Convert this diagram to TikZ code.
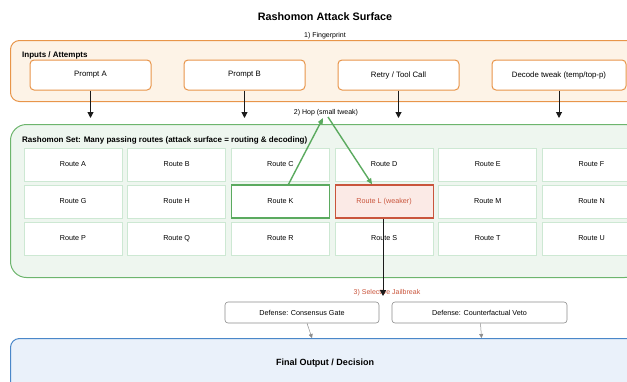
\documentclass[tikz,border=0pt]{standalone}
\usepackage{fontspec}
\setmainfont{Liberation Sans}
\usetikzlibrary{arrows.meta,positioning,calc}
\definecolor{inkblack}{HTML}{1A1A1A}
\definecolor{inorange}{HTML}{E8954A}
\definecolor{inbg}{HTML}{FDF3E7}
\definecolor{setgreen}{HTML}{6DB56D}
\definecolor{setbg}{HTML}{EEF6EF}
\definecolor{cellborder}{HTML}{CDE8D3}
\definecolor{hopgreen}{HTML}{5BAA5F}
\definecolor{weakred}{HTML}{C9553C}
\definecolor{weakbg}{HTML}{FBEAE6}
\definecolor{outblue}{HTML}{4A87C9}
\definecolor{outbg}{HTML}{EAF1FA}
\definecolor{defgray}{HTML}{8C8C8C}

\begin{document}
\begin{tikzpicture}[
    x=1pt, y=-1pt,
    panel/.style={rectangle, line width=1pt, anchor=north west, minimum width=630pt},
    inpanel/.style={panel, rounded corners=9pt, draw=inorange, fill=inbg, minimum height=61pt},
    setpanel/.style={panel, rounded corners=16pt, draw=setgreen, fill=setbg, minimum height=153pt},
    outpanel/.style={panel, rounded corners=9pt, draw=outblue, fill=outbg, minimum height=60pt},
    paneltitle/.style={anchor=west, font=\fontsize{8}{9}\selectfont\bfseries, inner sep=0pt},
    promptbox/.style={rectangle, rounded corners=4pt, line width=1pt, draw=inorange, fill=white, minimum width=121pt, minimum height=30pt, font=\fontsize{7.8}{9}\selectfont},
    routebox/.style={rectangle, line width=0.8pt, draw=cellborder, fill=white, minimum width=98pt, minimum height=33pt, font=\fontsize{7.2}{8}\selectfont},
    defbox/.style={rectangle, rounded corners=3pt, line width=0.6pt, draw=defgray, fill=white, minimum height=21pt, font=\fontsize{7.2}{8}\selectfont},
    flowarrow/.style={-{Triangle[length=6pt, width=6pt]}, line width=1pt, color=inkblack},
    hoparrow/.style={-{Triangle[length=6pt, width=5pt]}, line width=1.4pt, color=hopgreen},
    defarrow/.style={-{Triangle[length=4pt, width=4pt]}, line width=0.5pt, color=defgray},
    steplabel/.style={font=\fontsize{7}{8}\selectfont, inner sep=1pt}
]
    \clip (0,0) rectangle (627,381);

    % Title
    \node[font=\fontsize{10.8}{13}\selectfont\bfseries] (title) at (325,17) {Rashomon Attack Surface};

    % Inputs / Attempts
    \node[inpanel] (inputs) at (10,40) {};
    \node[paneltitle] (inputsT) at (22,55) {Inputs / Attempts};
    \node[steplabel] (fp) at (325,36) {1) Fingerprint};
    \node[promptbox] (pA) at (90.5,75) {Prompt A};
    \node[promptbox] (pB) at (244.5,75) {Prompt B};
    \node[promptbox] (pC) at (398.5,75) {Retry / Tool Call};
    \node[promptbox, minimum width=134pt] (pD) at (559,75) {Decode tweak (temp/top-p)};

    % Rashomon set
    \node[setpanel] (rset) at (10,124) {};
    \node[paneltitle] (rsetT) at (22,140) {Rashomon Set: Many passing routes (attack surface = routing \& decoding)};
    \foreach \name/\col/\row in {A/0/0, B/1/0, C/2/0, D/3/0, E/4/0, F/5/0,
                                 G/0/1, H/1/1, K/2/1, M/4/1, N/5/1,
                                 P/0/2, Q/1/2, R/2/2, S/3/2, T/4/2, U/5/2}
        \node[routebox] (r\name) at (73+103.7*\col, 164.5+37*\row) {Route \name};
    \node[routebox, draw=hopgreen, line width=1.1pt] (rK) at (280.4,201.5) {Route K};
    \node[routebox, draw=weakred, fill=weakbg, text=weakred, line width=1.2pt] (rL) at (384.1,201.5) {Route L (weaker)};

    % inputs into the set
    \foreach \p in {pA,pB,pC,pD}
        \draw[flowarrow, shorten >=6pt] (\p.south) -- (\p.south |- rset.north);

    % hop K -> L
    \node[steplabel] (hop) at (326,113) {2) Hop (small tweak)};
    \coordinate (hopTop) at (323,118);
    \coordinate (hopStart) at (328,117);
    \draw[hoparrow] ([xshift=8pt]rK.north) -- (hopTop);
    \draw[hoparrow] (hopStart) -- ([xshift=-12pt]rL.north);

    % selective jailbreak
    \node[steplabel, text=weakred] (jb) at (387,293) {3) Selective Jailbreak};
    \coordinate (jbEnd) at (383,296);
    \draw[flowarrow] (rL.south -| jbEnd) -- (jbEnd);

    % defenses
    \node[defbox, minimum width=154pt] (dA) at (302,312.5) {Defense: Consensus Gate};
    \node[defbox, minimum width=175pt] (dB) at (479.5,312.5) {Defense: Counterfactual Veto};

    % final output
    \node[outpanel] (final) at (10,338) {};
    \node[font=\fontsize{9}{11}\selectfont\bfseries] (finalT) at (325,363) {Final Output / Decision};

    \draw[defarrow] ([xshift=5pt]dA.south) -- ([xshift=10pt]dA.south |- final.north);
    \draw[defarrow] ([xshift=1pt]dB.south) -- ([xshift=2pt]dB.south |- final.north);
\end{tikzpicture}
\end{document}
